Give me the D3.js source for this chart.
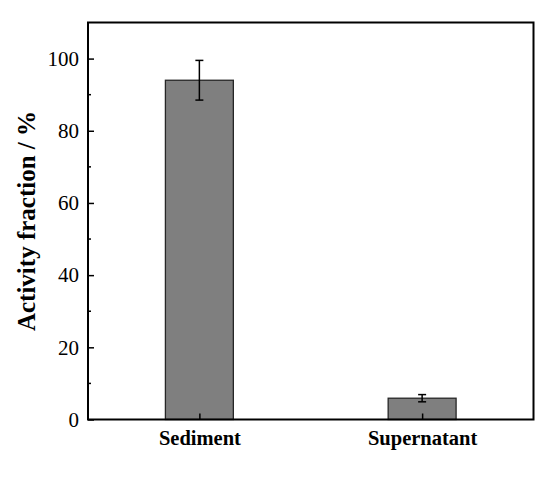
<!DOCTYPE html>
<html>
<head>
<meta charset="utf-8">
<script src="https://cdn.jsdelivr.net/npm/d3@7"></script>
<style>
body { margin: 0; background: #fff; }
</style>
</head>
<body>
<div id="chart"></div>
<script>
var categories = ["Sediment", "Supernatant"]
var values = [94.0, 5.9]
var errors = [5.5, 1.0]
var yTicks = [0, 20, 40, 60, 80, 100]

const svgWidth = 550
const svgHeight = 486
var plotLeft = 88, plotTop = 22.5, plotRight = 533.5, plotBottom = 419.5

var svg = d3.select("#chart")
    .append("svg")
    .attr("width", svgWidth)
    .attr("height", svgHeight)
    .style("font-family", "'Liberation Serif', 'Times New Roman', serif")

var x = d3.scalePoint()
    .domain(categories)
    .range([plotLeft, plotRight])
    .padding(0.5)

var y = d3.scaleLinear()
    .domain([0, 110])
    .range([plotBottom, plotTop])

var barW = x.step() * 0.305

// bars
svg.selectAll("rect.bar")
    .data(values)
    .enter()
    .append("rect")
    .attr("class", "bar")
    .attr("x", (d, i) => x(categories[i]) - barW / 2)
    .attr("y", d => y(d))
    .attr("width", barW)
    .attr("height", d => y(0) - y(d))
    .style("fill", "#7f7f7f")
    .style("stroke", "#262626")
    .style("stroke-width", "1.3px")

// error bars
var eb = svg.selectAll("g.err")
    .data(values)
    .enter()
    .append("g")
    .attr("class", "err")
    .style("stroke", "#000")
    .style("stroke-width", "1.5px")

eb.append("line")
    .attr("x1", (d, i) => x(categories[i]))
    .attr("x2", (d, i) => x(categories[i]))
    .attr("y1", (d, i) => y(d + errors[i]))
    .attr("y2", (d, i) => y(d - errors[i]))
eb.append("line")
    .attr("x1", (d, i) => x(categories[i]) - 4)
    .attr("x2", (d, i) => x(categories[i]) + 4)
    .attr("y1", (d, i) => y(d + errors[i]))
    .attr("y2", (d, i) => y(d + errors[i]))
eb.append("line")
    .attr("x1", (d, i) => x(categories[i]) - 4)
    .attr("x2", (d, i) => x(categories[i]) + 4)
    .attr("y1", (d, i) => y(d - errors[i]))
    .attr("y2", (d, i) => y(d - errors[i]))

// y axis, ticks inward
var yAxis = svg.append("g")
    .attr("transform", "translate(" + plotLeft + ",0)")
    .call(d3.axisLeft(y).tickValues(yTicks).tickSize(-6).tickPadding(9))
yAxis.select(".domain").remove()
yAxis.selectAll("line").style("stroke", "#000").style("stroke-width", "1.5px")
yAxis.selectAll("text")
    .style("font-size", "21px")
    .style("fill", "#000")
    .style("font-family", "'Liberation Serif', serif")

// minor ticks
var minor = d3.range(10, 110, 20)
svg.selectAll("line.minor")
    .data(minor)
    .enter()
    .append("line")
    .attr("x1", plotLeft)
    .attr("x2", plotLeft + 3)
    .attr("y1", d => y(d))
    .attr("y2", d => y(d))
    .style("stroke", "#000")
    .style("stroke-width", "1.5px")

// x axis, ticks inward
var xAxis = svg.append("g")
    .attr("transform", "translate(0," + plotBottom + ")")
    .call(d3.axisBottom(x).tickSize(-6).tickPadding(11))
xAxis.select(".domain").remove()
xAxis.selectAll("line").style("stroke", "#000").style("stroke-width", "1.5px")
xAxis.selectAll("text")
    .style("font-size", "20.5px")
    .style("font-weight", "bold")
    .style("fill", "#000")
    .style("font-family", "'Liberation Serif', serif")

// frame
svg.append("rect")
    .attr("x", plotLeft)
    .attr("y", plotTop)
    .attr("width", plotRight - plotLeft)
    .attr("height", plotBottom - plotTop)
    .style("fill", "none")
    .style("stroke", "#000")
    .style("stroke-width", "2px")

// y title
svg.append("text")
    .attr("transform", "translate(35," + ((plotTop + plotBottom) / 2) + ") rotate(-90)")
    .attr("text-anchor", "middle")
    .style("font-size", "25px")
    .style("font-weight", "bold")
    .text("Activity fraction / %")
</script>
</body>
</html>
